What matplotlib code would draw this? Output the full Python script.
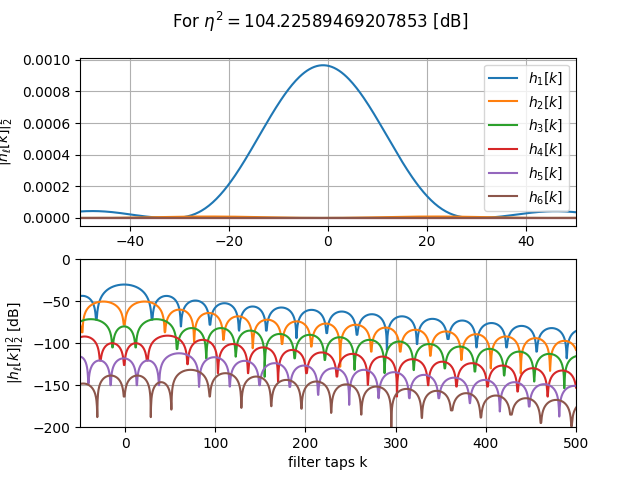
import numpy as np
import matplotlib
matplotlib.use('Agg')
import matplotlib.pyplot as plt

# values: null positions (taps), lobe peak levels [dB]
# between consecutive nulls, and how deep each null dips [dB]
h1_nulls = [-63, -32, 30, 61.8, 94, 126.3, 156.6, 190, 223.5, 257, 290.3, 323.7, 358, 389.6, 422.9, 456.3, 489.7, 522]
h1_peaks = [-43.6, -30.15, -43.7, -49.2, -52.4, -56.3, -57.5, -60.3, -62.3, -65.5, -68, -71, -73, -76, -79.4, -82, -84]
h1_dips = [-200, -72, -72, -80, -78, -85, -85, -94, -88, -90, -108, -101, -95, -105, -105, -110, -118, -200]
h1_pows = [1, 1.35] + [1] * 15

h2_nulls = [-80, -47.4, -1, 44, 76.5, 109, 141.5, 174, 206.5, 238.5, 272.9, 305, 338.5, 372.9, 405.5, 438.8, 471.2, 503, 535]
h2_peaks = [-65, -50.4, -50.4, -60, -64, -68, -72, -74, -76.6, -78, -81.4, -84, -86, -89.3, -92, -94, -97.2, -99]
h2_dips = [-200, -87, -78, -87, -98, -96, -106, -101, -104, -128, -110, -110, -115, -120, -130, -136, -133, -125, -200]

h3_nulls = [-62, -14, 11.8, 57.4, 90, 122.6, 154.8, 188, 221.4, 254.4, 287.7, 320, 354.4, 387.8, 420.3, 453.6, 487, 520]
h3_peaks = [-71.4, -80, -71.4, -82, -82, -85, -89, -90, -92.9, -96, -98, -101, -104, -106.7, -110, -112.7, -115]
h3_dips = [-200, -105, -105, -107, -118, -116, -140, -118, -120, -131.7, -135.7, -132, -130, -133.7, -138.5, -145.6, -153.6, -200]

h4_nulls = [-62, -27.8, -1, 24.8, 69.2, 102.9, 136.3, 169.6, 201, 234.8, 269.2, 301.5, 335.9, 367.4, 401.8, 435.2, 468.5, 501, 535]
h4_peaks = [-92, -100, -100, -91, -96, -101, -105, -108, -111, -112.7, -115.9, -119, -122, -123.8, -126.6, -129.8, -132.5, -135]
h4_dips = [-200, -120.6, -126, -120.6, -125, -135.7, -135.7, -145.6, -135.7, -139.7, -149.6, -163.5, -150, -151.6, -151.6, -157.5, -163.5, -160, -200]

h5_nulls = [-60, -40.8, -16, 13, 37.7, 82, 116, 149, 182.6, 214, 248.5, 281, 315.1, 347.7, 382.2, 415.5, 448, 481.4, 515]
h5_peaks = [-116, -120.6, -118, -120.6, -112, -116.7, -121, -123.8, -126.6, -129.8, -131.7, -134.5, -137.7, -141, -143.7, -146.4, -148.8, -150.8]
h5_dips = [-200, -148, -150, -150, -150, -152, -151.6, -150, -152, -161.5, -173.4, -165.5, -165.5, -165.5, -171.4, -181.3, -175.4, -187.3, -200]

h6_nulls = [-62, -30.8, -1, 28.5, 51.4, 93.7, 128.9, 162, 195.5, 228.5, 261.8, 295.2, 329, 362, 394.4, 427.7, 461, 495, 528]
h6_peaks = [-148, -138.5, -138.5, -146.4, -131.7, -135.7, -139.7, -143.7, -145.6, -149, -151.6, -154.4, -156.7, -159.5, -162.3, -165.5, -167.5, -170]
h6_dips = [-250, -188, -163.5, -188, -179, -163.5, -177, -175, -178, -183, -185, -210, -189, -180, -188.5, -185, -195, -199, -250]

eta2_db = 104.22589469207853


def lobes_db(k, nulls, peaks, dips, pows=None):
    out = np.full(k.shape, -300.0)
    for i in range(len(peaks)):
        a, b = nulls[i], nulls[i + 1]
        m = (k >= a) & (k <= b)
        u = (k[m] - a) / (b - a)
        p = 1 if pows is None else pows[i]
        s = np.maximum(np.sin(np.pi * u), 1e-12)
        out[m] = peaks[i] + 20 * p * np.log10(s)
    for n, d in zip(nulls, dips):
        near = np.abs(k - n) < 2
        out[near] = np.maximum(out[near], d)
    return out


all_nulls = h1_nulls + h2_nulls + h3_nulls + h4_nulls + h5_nulls + h6_nulls
k = np.union1d(np.arange(-50, 500.01, 0.25), [n for n in all_nulls if -50 <= n <= 500])

curves = [
    lobes_db(k, h1_nulls, h1_peaks, h1_dips, h1_pows),
    lobes_db(k, h2_nulls, h2_peaks, h2_dips),
    lobes_db(k, h3_nulls, h3_peaks, h3_dips),
    lobes_db(k, h4_nulls, h4_peaks, h4_dips),
    lobes_db(k, h5_nulls, h5_peaks, h5_dips),
    lobes_db(k, h6_nulls, h6_peaks, h6_dips),
]

fig, (ax1, ax2) = plt.subplots(2, 1, figsize=(6.4, 4.8), dpi=100)
fig.suptitle(r'For $\eta^2 = $' + f'{eta2_db}' + ' [dB]')

for i, c in enumerate(curves):
    ax1.plot(k, 10 ** (c / 10), label=rf'$h_{i + 1}[k]$')
ax1.set_xlim(-50, 50)
ax1.set_ylabel(r'$|h_\ell[k]|_2^2$')
ax1.grid(True)
ax1.legend(loc='upper right')

for c in curves:
    ax2.plot(k, c)
ax2.set_xlim(-50, 500)
ax2.set_ylim(-200, 0)
ax2.set_xlabel('filter taps k')
ax2.set_ylabel(r'$|h_\ell[k]|_2^2$ [dB]')
ax2.grid(True)

fig.savefig('out.png')
